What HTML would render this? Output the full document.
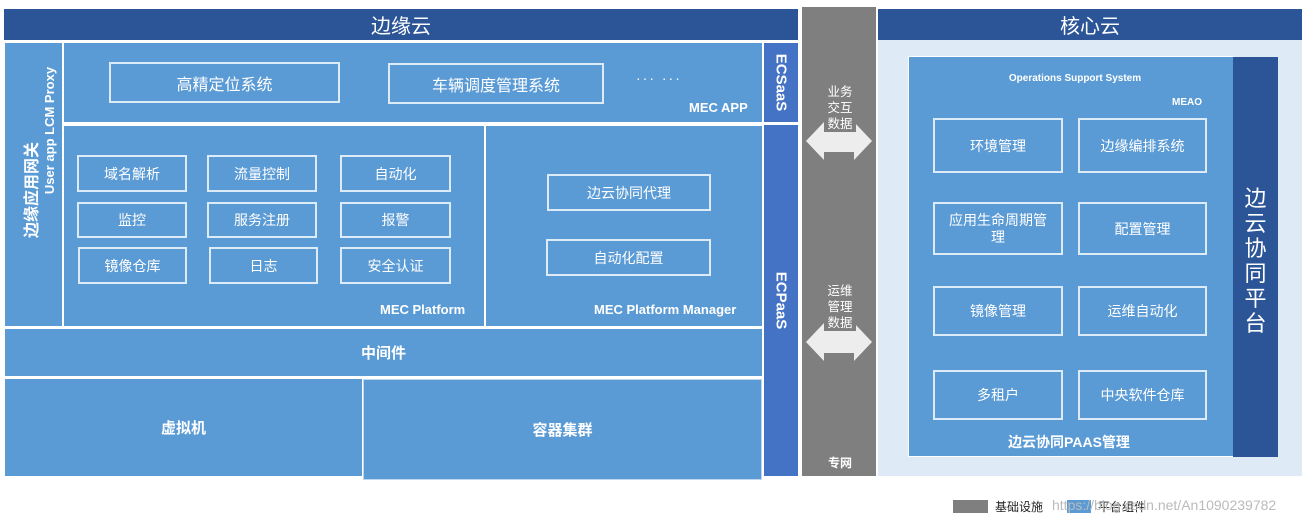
<!DOCTYPE html>
<html><head><meta charset="utf-8"><style>
body{margin:0;width:1316px;height:527px;background:#fff;position:relative;overflow:hidden;font-family:"Liberation Sans","Noto Sans CJK SC",sans-serif;}
div{position:absolute;box-sizing:border-box;}
.b{background:#5B9BD5;color:#fff;}
.c{display:flex;align-items:center;justify-content:center;text-align:center;}
.bx{border:2px solid #DDEBF7;color:#fff;font-size:14px;display:flex;align-items:center;justify-content:center;text-align:center;}
.lbl{color:#fff;font-weight:bold;font-size:13px;}
.rot{position:static;transform:rotate(-90deg);white-space:nowrap;color:#fff;font-weight:bold;}
</style></head><body>
<div class="c" style="left:4px;top:9px;width:794px;height:31px;background:#2B5597;color:#fff;font-size:20px;">边缘云</div>
<div class="b" style="left:5px;top:43px;width:57px;height:283px;"></div>
<div class="c" style="left:20px;top:100px;width:20px;height:180px;"><div class="rot" style="font-size:16px;">边缘应用网关</div></div>
<div class="c" style="left:40px;top:40px;width:20px;height:180px;"><div class="rot" style="font-size:13px;">User app LCM Proxy</div></div>
<div class="b" style="left:64px;top:43px;width:698px;height:79px;"></div>
<div class="bx" style="left:109px;top:62px;width:231px;height:41px;font-size:16px;">高精定位系统</div>
<div class="bx" style="left:388px;top:63px;width:216px;height:41px;font-size:16px;">车辆调度管理系统</div>
<div style="left:636px;top:70px;color:#fff;font-size:14px;letter-spacing:2px;">··· ···</div>
<div class="lbl" style="left:689px;top:100px;">MEC APP</div>
<div class="c" style="left:764px;top:43px;width:34px;height:79px;background:#4472C4;"><div style="position:static;transform:rotate(90deg);color:#fff;font-weight:bold;font-size:15px;white-space:nowrap;">ECSaaS</div></div>
<div class="c" style="left:764px;top:125px;width:34px;height:351px;background:#4472C4;"><div style="transform:rotate(90deg);color:#fff;font-weight:bold;font-size:15px;white-space:nowrap;position:relative;top:0px;">ECPaaS</div></div>
<div class="b" style="left:64px;top:126px;width:420px;height:200px;"></div>
<div class="bx" style="left:77px;top:155px;width:110px;height:37px;">域名解析</div>
<div class="bx" style="left:207px;top:155px;width:110px;height:37px;">流量控制</div>
<div class="bx" style="left:340px;top:155px;width:111px;height:37px;">自动化</div>
<div class="bx" style="left:77px;top:202px;width:110px;height:36px;">监控</div>
<div class="bx" style="left:207px;top:202px;width:110px;height:36px;">服务注册</div>
<div class="bx" style="left:340px;top:202px;width:111px;height:36px;">报警</div>
<div class="bx" style="left:78px;top:247px;width:109px;height:37px;">镜像仓库</div>
<div class="bx" style="left:209px;top:247px;width:109px;height:37px;">日志</div>
<div class="bx" style="left:340px;top:247px;width:111px;height:37px;">安全认证</div>
<div class="lbl" style="left:380px;top:302px;">MEC Platform</div>
<div class="b" style="left:486px;top:126px;width:276px;height:200px;"></div>
<div class="bx" style="left:547px;top:174px;width:164px;height:37px;">边云协同代理</div>
<div class="bx" style="left:546px;top:239px;width:165px;height:37px;">自动化配置</div>
<div class="lbl" style="left:594px;top:302px;">MEC Platform Manager</div>
<div class="b c" style="left:5px;top:329px;width:757px;height:47px;font-weight:bold;font-size:15px;">中间件</div>
<div class="b c" style="left:5px;top:379px;width:357px;height:97px;font-weight:bold;font-size:15px;">虚拟机</div>
<div class="b c" style="left:363px;top:379px;width:399px;height:101px;font-weight:bold;font-size:15px;border:1px solid #BDD7EE;">容器集群</div>
<div style="left:802px;top:7px;width:74px;height:469px;background:#7F7F7F;"></div>
<svg style="position:absolute;left:804px;top:120px" width="70" height="42"><polygon points="2,21 20,2 20,10 50,10 50,2 68,21 50,40 50,32 20,32 20,40" fill="#EDEDED"/></svg>
<svg style="position:absolute;left:804px;top:321px" width="70" height="42"><polygon points="2,21 20,2 20,10 50,10 50,2 68,21 50,40 50,32 20,32 20,40" fill="#EDEDED"/></svg>
<div style="left:824px;top:84px;color:#fff;font-size:12.5px;line-height:16px;width:32px;text-align:center;background:#7F7F7F;">业务<br>交互<br>数据</div>
<div style="left:824px;top:283px;color:#fff;font-size:12.5px;line-height:16px;width:32px;text-align:center;background:#7F7F7F;">运维<br>管理<br>数据</div>
<div style="left:822px;top:454px;color:#fff;font-size:12px;font-weight:bold;width:36px;text-align:center;">专网</div>
<div class="c" style="left:878px;top:9px;width:424px;height:31px;background:#2B5597;color:#fff;font-size:20px;">核心云</div>
<div style="left:878px;top:40px;width:424px;height:436px;background:#DEEAF6;"></div>
<div class="b" style="left:908px;top:56px;width:326px;height:401px;border:1px solid #fff;"></div>
<div style="left:1233px;top:57px;width:45px;height:400px;background:#2B5597;"></div>
<div style="left:1233px;top:186px;width:45px;color:#fff;font-size:22px;line-height:25px;text-align:center;">边<br>云<br>协<br>同<br>平<br>台</div>
<div style="left:908px;top:73px;width:334px;text-align:center;color:#fff;font-weight:bold;font-size:10px;">Operations Support System</div>
<div style="left:1172px;top:97px;color:#fff;font-weight:bold;font-size:10px;">MEAO</div>
<div class="bx" style="left:933px;top:118px;width:130px;height:55px;">环境管理</div>
<div class="bx" style="left:1078px;top:118px;width:129px;height:55px;">边缘编排系统</div>
<div class="bx" style="left:933px;top:202px;width:130px;height:53px;line-height:17px;">应用生命周期管<br>理</div>
<div class="bx" style="left:1078px;top:202px;width:129px;height:53px;">配置管理</div>
<div class="bx" style="left:933px;top:286px;width:130px;height:50px;">镜像管理</div>
<div class="bx" style="left:1078px;top:286px;width:129px;height:50px;">运维自动化</div>
<div class="bx" style="left:933px;top:370px;width:130px;height:50px;">多租户</div>
<div class="bx" style="left:1078px;top:370px;width:129px;height:50px;">中央软件仓库</div>
<div style="left:908px;top:432px;width:322px;text-align:center;color:#fff;font-weight:bold;font-size:14px;">边云协同PAAS管理</div>
<div style="left:953px;top:500px;width:35px;height:13px;background:#7F7F7F;"></div>
<div style="left:995px;top:498px;font-size:12px;color:#222;">基础设施</div>
<div style="left:1067px;top:500px;width:24px;height:13px;background:#5B9BD5;"></div>
<div style="left:1098px;top:498px;font-size:12px;color:#222;">平台组件</div>
<div style="left:1052px;top:497px;font-size:14px;color:#bbb;white-space:nowrap;">https://blog.csdn.net/An1090239782</div>
</body></html>
